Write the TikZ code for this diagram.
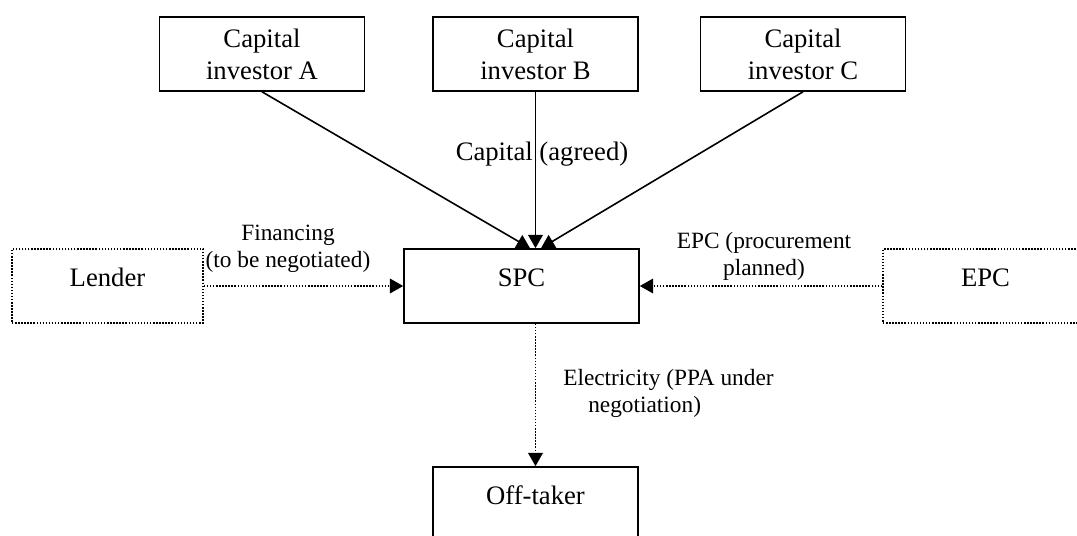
\documentclass[tikz,border=0pt]{standalone}
\usepackage{fontspec}
\setmainfont{Liberation Serif}
\usetikzlibrary{arrows.meta}
\usetikzlibrary{positioning}

\tikzset{
  topbox/.style={draw, line width=1.2pt, minimum width=153.75pt, minimum height=55.5pt,
    inner sep=0pt, align=center, font=\fontsize{20}{24}\selectfont},
  onebox/.style={draw, line width=1.2pt, minimum height=55.5pt, inner sep=0pt,
    text height=27.75pt, text depth=27.75pt, font=\fontsize{20}{24}\selectfont},
  dotbox/.style={onebox, dash pattern=on 1.1pt off 1.2pt},
  flow/.style={line width=1.2pt, -{Triangle[length=10pt,width=11pt]}},
  dotflow/.style={flow, dash pattern=on 1.1pt off 1.2pt},
  lbl/.style={align=center, inner sep=0pt, font=\fontsize{17.5}{20.25}\selectfont}
}

\begin{document}
\begin{tikzpicture}[x=0.75pt,y=-0.75pt]

\useasboundingbox (0,0) rectangle (1077,535);

\node (invA) at (262,54) [topbox] {Capital\\investor A};
\node (invB) at (535.5,54) [topbox] {Capital\\investor B};
\node (invC) at (803,54) [topbox] {Capital\\investor C};

\node (lender) at (107.5,286) [dotbox, minimum width=143.25pt] {Lender};
\node (spc) at (521.5,286) [onebox, minimum width=176.25pt] {SPC};
\node (epc) at (985.5,286) [dotbox, minimum width=153.75pt] {EPC};
\node (off) at (535.5,504) [onebox, minimum width=153.75pt] {Off-taker};

\draw[flow] (invA.south) -- ([xshift=6.4pt]spc.north);
\draw[flow] (invB.south) -- (invB.south |- spc.north);
\draw[flow] (invC.south) -- ([xshift=14.6pt]spc.north);

\draw[dotflow] (lender.east) -- (spc.west);
\draw[dotflow] (epc.west) -- (spc.east);
\draw[dotflow] (spc.south -| off.north) -- (off.north);

\node (capital) at (542,160) [anchor=base, inner sep=0pt,
  font=\fontsize{20}{24}\selectfont] {Capital (agreed)};
\node (financing) at (288,249) [lbl] {Financing\\(to be negotiated)};
\node (procure) at (764,256) [lbl] {EPC (procurement\\planned)};
\node (electricity) at (563,393.5) [lbl, anchor=west, align=left]
{Electricity (PPA under\\\hspace*{18.75pt}negotiation)};

\end{tikzpicture}
\end{document}
